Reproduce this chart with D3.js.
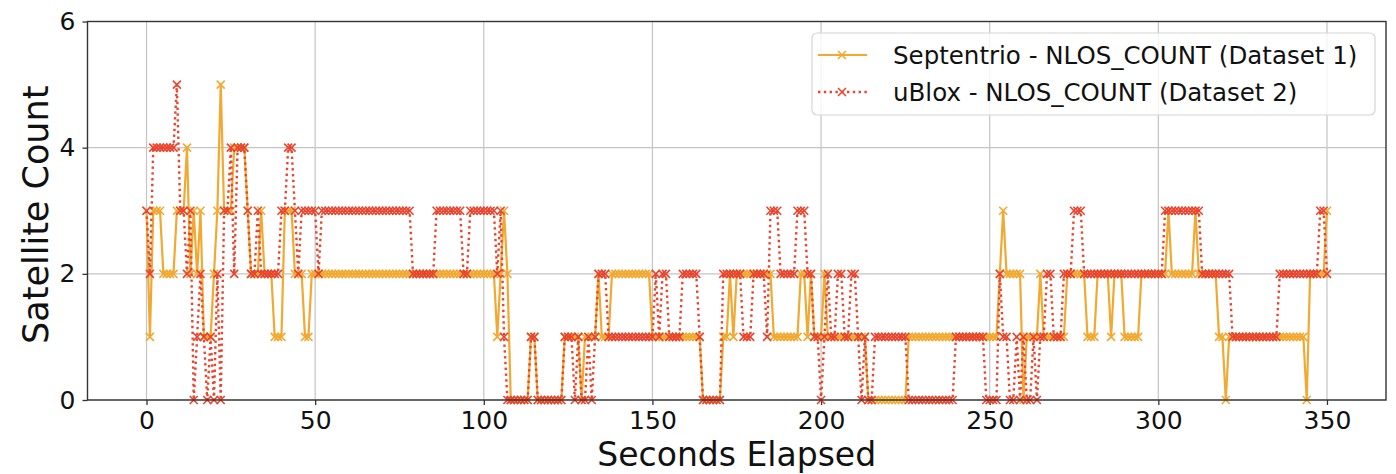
<!DOCTYPE html>
<html>
<head>
<meta charset="utf-8">
<script src="https://cdn.jsdelivr.net/npm/d3@7"></script>
<style>
  html, body { margin: 0; padding: 0; background: #ffffff; }
  svg { display: block; font-family: "DejaVu Sans", sans-serif; }
</style>
</head>
<body>
<svg id="chart" width="1396" height="474"></svg>
<script>
// NLOS satellite counts, one sample per second (index = seconds elapsed)
const septentrioNlos = [
  3,1,3,3,3,2,2,2,2,3,
  3,3,4,2,3,2,3,1,1,1,
  2,3,5,3,3,3,4,4,4,4,
  3,2,2,2,3,2,2,2,1,1,
  1,3,3,3,2,2,2,1,1,2,
  2,2,2,2,2,2,2,2,2,2,
  2,2,2,2,2,2,2,2,2,2,
  2,2,2,2,2,2,2,2,2,2,
  2,2,2,2,2,2,2,2,2,2,
  2,2,2,2,2,2,2,2,2,2,
  2,2,2,2,1,2,3,2,0,0,
  0,0,0,0,1,1,0,0,0,0,
  0,0,0,0,1,1,1,1,1,0,
  1,1,1,1,2,1,1,1,2,2,
  2,2,2,2,2,2,2,2,2,2,
  1,1,1,1,1,1,1,1,1,1,
  1,1,1,1,1,0,0,0,0,0,
  0,1,1,2,1,2,2,2,2,2,
  2,2,2,2,2,2,1,1,1,1,
  1,1,1,1,2,2,1,2,1,1,
  1,2,1,1,1,1,1,1,1,1,
  1,1,1,1,0,0,0,0,0,0,
  0,0,0,0,0,0,1,1,1,1,
  1,1,1,1,1,1,1,1,1,1,
  1,1,1,1,1,1,1,1,1,1,
  1,1,1,2,3,2,2,2,2,2,
  0,1,1,1,1,2,1,1,1,1,
  1,1,1,2,2,2,2,2,2,1,
  1,1,2,2,2,2,1,2,2,2,
  1,1,1,1,1,2,2,2,2,2,
  2,2,2,3,2,2,2,2,2,2,
  2,3,2,2,2,2,2,2,1,1,
  0,1,1,1,1,1,1,1,1,1,
  1,1,1,1,1,1,1,1,1,1,
  1,1,1,1,0,2,2,2,2,2,
  3
];

const ubloxNlos = [
  3,2,4,4,4,4,4,4,4,5,
  3,3,2,3,0,1,2,1,0,1,
  0,2,0,3,3,4,2,4,4,4,
  3,2,2,3,2,2,2,2,2,2,
  3,3,4,4,3,2,3,3,3,3,
  3,2,3,3,3,3,3,3,3,3,
  3,3,3,3,3,3,3,3,3,3,
  3,3,3,3,3,3,3,3,3,2,
  2,2,2,2,2,2,3,3,3,3,
  3,3,3,3,2,2,3,3,3,3,
  3,3,3,3,2,3,1,0,0,0,
  0,0,0,0,1,1,0,0,0,0,
  0,0,0,0,1,1,1,0,1,0,
  0,1,0,1,2,2,2,1,1,1,
  1,1,1,1,1,1,1,1,1,1,
  1,2,1,2,2,1,1,1,1,2,
  2,2,2,2,1,0,0,0,0,0,
  0,2,2,2,2,2,2,1,1,1,
  2,2,2,2,1,3,3,3,2,2,
  2,2,2,3,3,3,2,2,1,1,
  0,1,2,1,1,2,2,1,1,2,
  2,1,0,1,0,0,1,1,1,1,
  1,1,1,1,1,1,0,0,0,0,
  0,0,0,0,0,0,0,0,0,0,
  1,1,1,1,1,1,1,1,1,0,
  0,0,0,2,1,1,0,0,1,0,
  1,0,0,1,0,1,1,2,2,1,
  1,1,2,2,2,3,3,3,2,2,
  2,2,2,2,2,2,2,2,2,2,
  2,2,2,2,2,2,2,2,2,2,
  2,2,3,3,3,3,3,3,3,3,
  3,3,3,2,2,2,2,2,2,2,
  2,2,1,1,1,1,1,1,1,1,
  1,1,1,1,1,1,2,2,2,2,
  2,2,2,2,2,2,2,2,3,3,
  2
];

const seriesNames = [
  "Septentrio - NLOS_COUNT (Dataset 1)",
  "uBlox - NLOS_COUNT (Dataset 2)"
];
const xTicks = [0, 50, 100, 150, 200, 250, 300, 350];
const yTicks = [0, 2, 4, 6];
const xDomain = [-17.5, 367.5];
const yDomain = [0, 6];

const colors = { septentrio: "#F1A931", ublox: "#E8452F" };

const svg = d3.select("#chart");
const plot = { left: 87.5, right: 1386, top: 21.5, bottom: 400 };

const x = d3.scaleLinear().domain(xDomain).range([plot.left, plot.right]);
const y = d3.scaleLinear().domain(yDomain).range([plot.bottom, plot.top]);

// grid
const grid = svg.append("g").attr("class", "grid");
grid.selectAll("line.gx").data(xTicks).join("line")
  .attr("x1", d => x(d)).attr("x2", d => x(d))
  .attr("y1", plot.top).attr("y2", plot.bottom)
  .attr("stroke", "#c4c4c4").attr("stroke-width", 1.2);
grid.selectAll("line.gy").data(yTicks).join("line")
  .attr("x1", plot.left).attr("x2", plot.right)
  .attr("y1", d => y(d)).attr("y2", d => y(d))
  .attr("stroke", "#c4c4c4").attr("stroke-width", 1.2);

// axes
const xAxis = d3.axisBottom(x).tickValues(xTicks).tickFormat(d3.format("d"))
  .tickSize(5).tickPadding(6);
const yAxis = d3.axisLeft(y).tickValues(yTicks).tickFormat(d3.format("d"))
  .tickSize(5).tickPadding(7);

const gx = svg.append("g").attr("transform", `translate(0,${plot.bottom})`).call(xAxis);
const gy = svg.append("g").attr("transform", `translate(${plot.left},0)`).call(yAxis);
[gx, gy].forEach(g => {
  g.select(".domain").remove();
  g.selectAll(".tick line").attr("stroke", "#333").attr("stroke-width", 1.3);
  g.selectAll(".tick text").attr("fill", "#111").style("font-size", "25px")
    .style("font-family", "'DejaVu Sans', sans-serif");
});

// series
const line = d3.line().x((d, i) => x(i)).y(d => y(d));
const markerPath = "M-4,-4L4,4M-4,4L4,-4";

function drawSeries(values, color, dashed) {
  const g = svg.append("g");
  g.append("path").datum(values)
    .attr("d", line)
    .attr("fill", "none")
    .attr("stroke", color)
    .attr("stroke-width", dashed ? 2.4 : 2.2)
    .attr("stroke-dasharray", dashed ? "2.4,3.4" : null)
    .attr("stroke-linejoin", "round");
  g.selectAll("path.m").data(values).join("path")
    .attr("class", "m")
    .attr("transform", (d, i) => `translate(${x(i)},${y(d)})`)
    .attr("d", markerPath)
    .attr("stroke", color)
    .attr("stroke-width", 1.6)
    .attr("fill", "none");
}
drawSeries(septentrioNlos, colors.septentrio, false);
drawSeries(ubloxNlos, colors.ublox, true);

// frame
svg.append("rect")
  .attr("x", plot.left).attr("y", plot.top)
  .attr("width", plot.right - plot.left).attr("height", plot.bottom - plot.top)
  .attr("fill", "none").attr("stroke", "#333").attr("stroke-width", 1.4);

// axis titles
svg.append("text")
  .attr("x", (plot.left + plot.right) / 2).attr("y", 466)
  .attr("text-anchor", "middle")
  .style("font-size", "33px").attr("fill", "#111")
  .text("Seconds Elapsed");
svg.append("text")
  .attr("transform", `translate(48,${(plot.top + plot.bottom) / 2 + 4}) rotate(-90)`)
  .attr("text-anchor", "middle")
  .style("font-size", "35px").attr("fill", "#111")
  .text("Satellite Count");

// legend
const legend = svg.append("g");
legend.append("rect")
  .attr("x", 812).attr("y", 33).attr("width", 563).attr("height", 82)
  .attr("rx", 5).attr("fill", "rgba(255,255,255,0.8)")
  .attr("stroke", "#d6d6d6").attr("stroke-width", 1.2);
const legendRows = [
  { name: seriesNames[0], color: colors.septentrio, dashed: false, cy: 55 },
  { name: seriesNames[1], color: colors.ublox, dashed: true, cy: 92 }
];
legendRows.forEach(r => {
  legend.append("line")
    .attr("x1", 818).attr("x2", 867).attr("y1", r.cy).attr("y2", r.cy)
    .attr("stroke", r.color).attr("stroke-width", r.dashed ? 2.4 : 2.2)
    .attr("stroke-dasharray", r.dashed ? "2.4,3.4" : null);
  legend.append("path")
    .attr("transform", `translate(842,${r.cy})`)
    .attr("d", markerPath).attr("stroke", r.color)
    .attr("stroke-width", 1.6).attr("fill", "none");
  legend.append("text")
    .attr("x", 893).attr("y", r.cy).attr("dy", "0.36em")
    .style("font-size", "24.5px").attr("fill", "#111")
    .text(r.name);
});
</script>
</body>
</html>
